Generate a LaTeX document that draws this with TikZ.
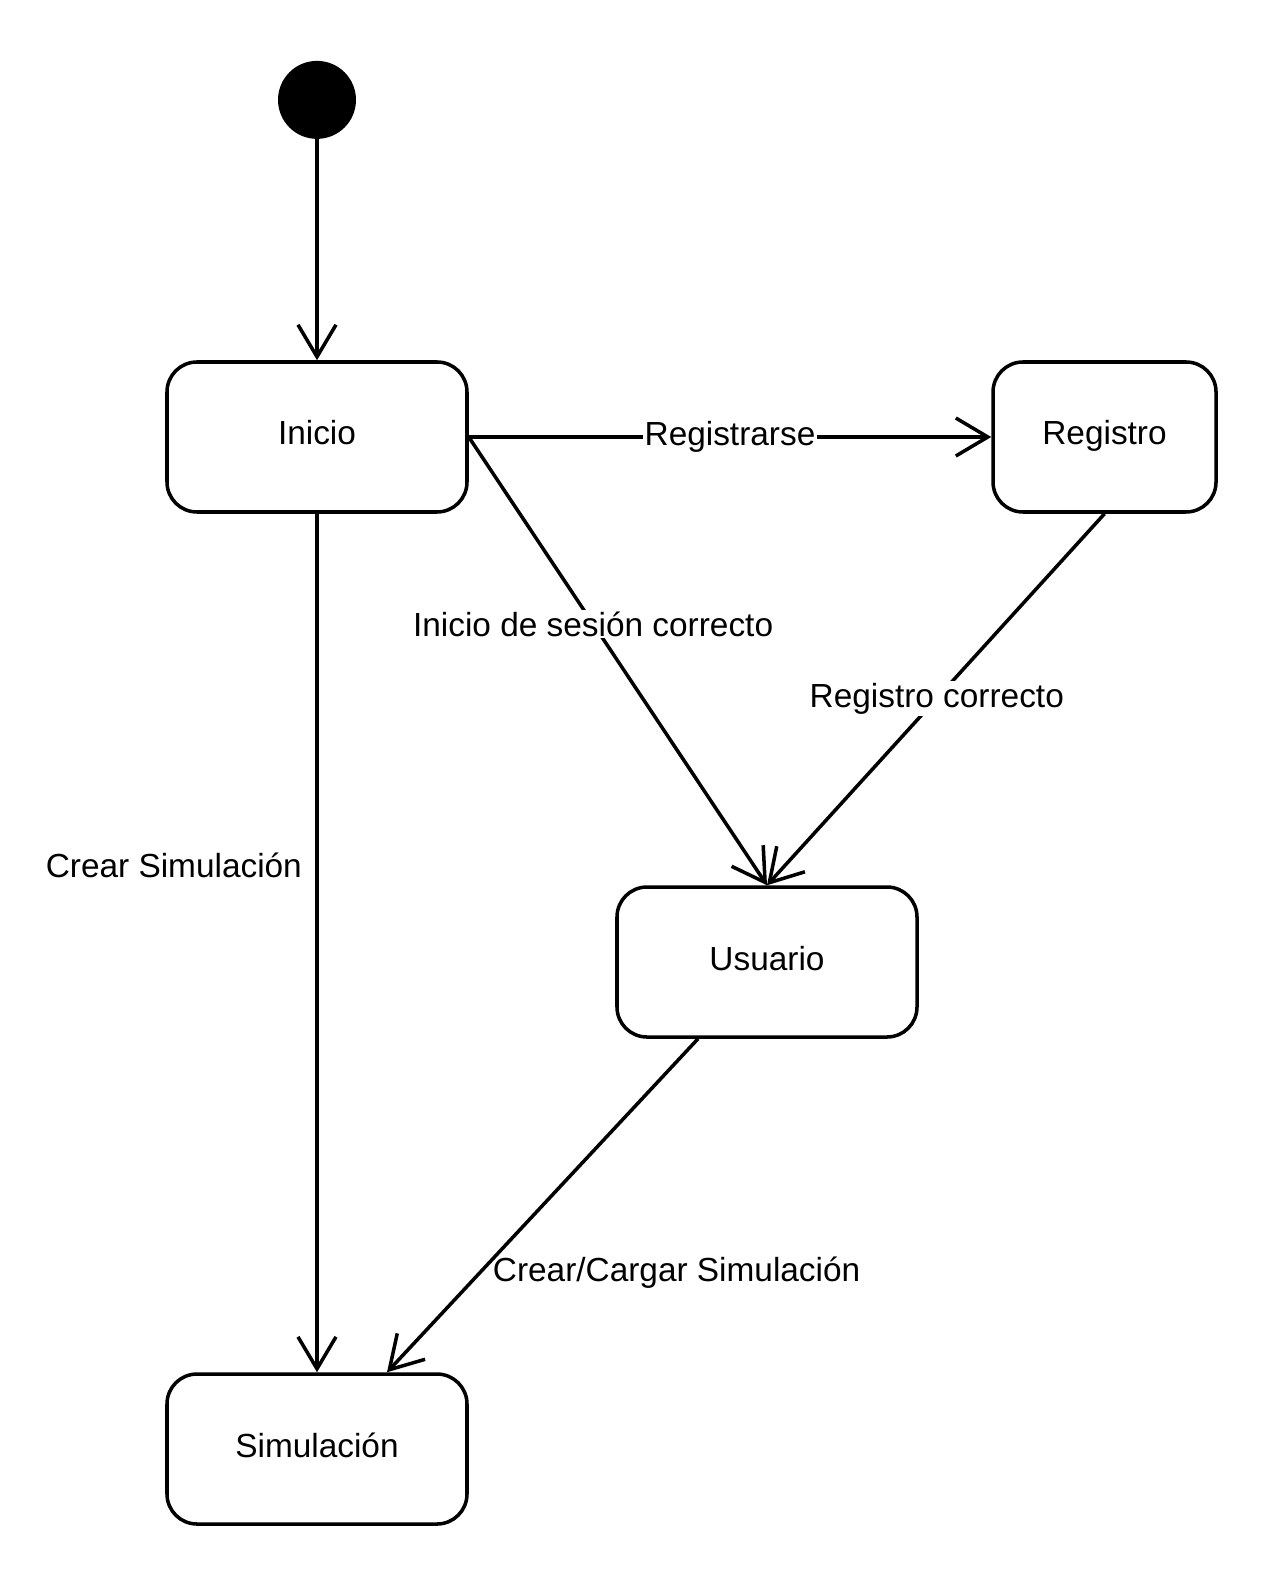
\documentclass[tikz,border=0pt]{standalone}
\usepackage{fontspec}
\setmainfont{Liberation Sans}
\usetikzlibrary{arrows.meta,positioning}

\begin{document}
\begin{tikzpicture}[
    state/.style={draw, rounded corners=0.6cm, line width=2pt,
                  minimum width=6cm, minimum height=3cm, fill=white,
                  text height=0.5cm, text depth=0.18cm},
    arr/.style={-{Straight Barb[length=6.4mm,width=7.6mm]}, line width=2pt},
    lbl/.style={fill=white, inner sep=1pt},
    font=\fontsize{19}{23}\selectfont
  ]
    \useasboundingbox (-6.34,-23.02) rectangle (18.98,8.74);

    % States
    \node[state]                                      (inicio)   {Inicio};
    \node[state, minimum width=4.46cm, right=10.45cm of inicio] (registro) {Registro};
    \node[state, below=7.43cm of inicio, xshift=9cm]  (usuario)  {Usuario};
    \node[state, below=17.17cm of inicio]             (simul)    {Simulación};
    \node[circle, fill=black, minimum size=1.56cm, inner sep=0pt,
          above=4.42cm of inicio]                     (start)    {};

    % Transitions
    \draw[arr] (start) -- (inicio);
    \draw[arr] (inicio) -- node[lbl] {Registrarse} (registro);
    \draw[arr] (inicio.east) -- node[lbl, pos=0.417] {Inicio de sesión correcto} (usuario.north);
    \draw[arr] (registro.south) -- node[lbl, pos=0.497] {Registro correcto} (usuario.north);
    \draw[arr] (inicio) -- node[pos=0.41, left=0.15cm] {Crear Simulación} (simul);
    \draw[arr] ([xshift=-1.38cm]usuario.south) --
      node[pos=0.70, right=0.1cm] {Crear/Cargar Simulación} ([xshift=1.4cm]simul.north);
\end{tikzpicture}
\end{document}
